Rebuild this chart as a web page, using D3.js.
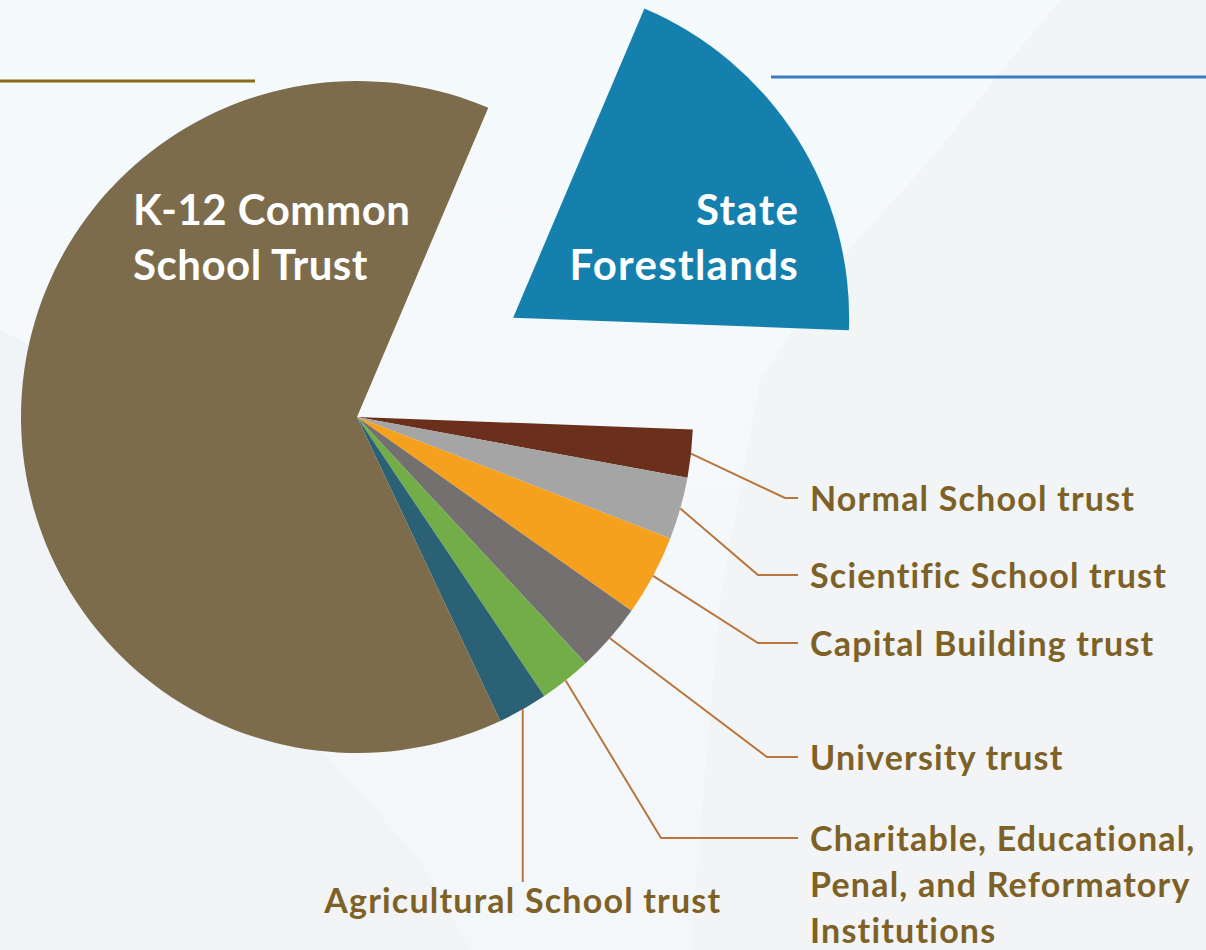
<!DOCTYPE html>
<html lang = "en">
    <head>
      <script src = "https://cdn.jsdelivr.net/npm/d3@7"></script>
      <style>
        body { margin: 0; background: #f4f9fc; }
        svg { display: block; }
        text { font-family: Lato, 'Open Sans', sans-serif; font-weight: 700; }
      </style>
    </head>

    <body>
        <div id="pieDiv"></div>
        <script>
            // slices in drawing order, clockwise from the forest wedge
            const categories = [
                'State Forestlands',
                'Normal School trust',
                'Scientific School trust',
                'Capital Building trust',
                'University trust',
                'Charitable, Educational, Penal, and Reformatory Institutions',
                'Agricultural School trust',
                'K-12 Common School Trust'
            ]
            const values = [19.2, 2.3, 3.0, 3.9, 3.3, 2.5, 2.4, 63.4]
            const labelLines = [
                ['State', 'Forestlands'],
                ['Normal School trust'],
                ['Scientific School trust'],
                ['Capital Building trust'],
                ['University trust'],
                ['Charitable, Educational,', 'Penal, and Reformatory', 'Institutions'],
                ['Agricultural School trust'],
                ['K-12 Common', 'School Trust']
            ]
            const colors = ['#1580ad', '#6b301c', '#a5a5a5', '#f6a11e', '#757070', '#72ad47', '#2b6175', '#7c6c4c']

            let w = 1206
            let h = 950
            let cx = 357
            let cy = 417
            let radius = 336
            let explode = 185
            let startDeg = 23

            // callout layout: elbow x, y of the short horizontal run (null elbow = straight drop)
            let callouts = {
                1: {elbowX: 785, lineY: 498, textX: 810},
                2: {elbowX: 758, lineY: 575, textX: 810},
                3: {elbowX: 758, lineY: 643, textX: 810},
                4: {elbowX: 767, lineY: 757, textX: 810},
                5: {elbowX: 661, lineY: 838, textX: 810},
                6: {elbowX: null, lineY: 882, textX: 521}
            }

            let svg = d3.select('#pieDiv')
                .append('svg')
                .attr('width', w)
                .attr('height', h)

            // faint backdrop
            let defs = svg.append('defs')
            let grad = defs.append('linearGradient')
                .attr('id', 'bg')
                .attr('x1', 0).attr('y1', 0).attr('x2', 0).attr('y2', 1)
            grad.append('stop').attr('offset', '0%').attr('stop-color', '#f5fafd')
            grad.append('stop').attr('offset', '100%').attr('stop-color', '#f4f7f9')
            svg.append('rect')
                .attr('width', w)
                .attr('height', h)
                .attr('fill', 'url(#bg)')
            svg.append('path')
                .attr('d', 'M690,950 L720,600 L760,380 L840,260 L930,160 L1010,60 L1060,0 L1206,0 L1206,950 Z')
                .attr('fill', '#f0f1f1')
                .attr('opacity', 0.6)
            svg.append('path')
                .attr('d', 'M0,330 L40,350 L90,420 L150,520 L230,640 L330,760 L420,860 L470,950 L0,950 Z')
                .attr('fill', '#eef0f1')
                .attr('opacity', 0.5)

            // header rules
            svg.append('line')
                .attr('x1', 0).attr('x2', 255)
                .attr('y1', 81).attr('y2', 81)
                .attr('stroke', '#8a6a12')
                .attr('stroke-width', 3)
            svg.append('line')
                .attr('x1', 771).attr('x2', w)
                .attr('y1', 77).attr('y2', 77)
                .attr('stroke', '#3a7bc4')
                .attr('stroke-width', 3)

            let startAngle = startDeg * Math.PI / 180
            let pie = d3.pie()
                .sort(null)
                .value(function(d) {return d})
                .startAngle(startAngle)
                .endAngle(startAngle + 2 * Math.PI)
            let arcs = pie(values)

            let arc = d3.arc()
                .innerRadius(0)
                .outerRadius(radius)
            let edge = d3.arc()
                .innerRadius(radius)
                .outerRadius(radius)

            function offset(d, i) {
                if (i !== 0) return [0, 0]
                let a = (d.startAngle + d.endAngle) / 2
                return [Math.sin(a) * explode, -Math.cos(a) * explode]
            }

            let g = svg.append('g')
                .attr('transform', 'translate(' + cx + ',' + cy + ')')

            g.selectAll('path.slice')
                .data(arcs)
                .enter()
                .append('path')
                .attr('class', 'slice')
                .attr('d', arc)
                .attr('fill', function(d, i) {return colors[i]})
                .attr('transform', function(d, i) {return 'translate(' + offset(d, i).join(',') + ')'})

            // leader lines
            let lineColor = '#b8763e'
            arcs.forEach(function(d, i) {
                let c = callouts[i]
                if (!c) return
                let p = edge.centroid(d)
                let pts
                if (c.elbowX === null) {
                    pts = [[p[0], p[1]], [p[0], c.lineY - cy]]
                } else {
                    pts = [[p[0], p[1]], [c.elbowX - cx, c.lineY - cy], [c.textX - 12 - cx, c.lineY - cy]]
                }
                g.append('path')
                    .attr('d', d3.line()(pts))
                    .attr('fill', 'none')
                    .attr('stroke', lineColor)
                    .attr('stroke-width', 2)

                let label = g.append('text')
                    .attr('fill', '#7d6126')
                    .attr('font-size', 34)
                    .attr('letter-spacing', 1.2)
                if (c.elbowX === null) {
                    label.attr('text-anchor', 'middle')
                        .attr('x', p[0])
                        .attr('y', c.lineY + 31 - cy)
                } else {
                    label.attr('x', c.textX - cx)
                        .attr('y', c.lineY + 13 - cy)
                }
                labelLines[i].forEach(function(line, k) {
                    label.append('tspan')
                        .attr('x', label.attr('x'))
                        .attr('dy', k === 0 ? 0 : 46)
                        .text(line)
                })
            })

            // labels inside the two big wedges
            let forest = arcs[0]
            let fo = offset(forest, 0)
            let forestLabel = g.append('text')
                .attr('fill', '#ffffff')
                .attr('font-size', 42)
                .attr('letter-spacing', 1.3)
                .attr('text-anchor', 'end')
            labelLines[0].forEach(function(line, k) {
                forestLabel.append('tspan')
                    .attr('x', fo[0] + 286)
                    .attr('y', fo[1] - 93 + k * 55)
                    .text(line)
            })

            let k12Label = g.append('text')
                .attr('fill', '#ffffff')
                .attr('font-size', 42)
                .attr('letter-spacing', 0.5)
            labelLines[7].forEach(function(line, k) {
                k12Label.append('tspan')
                    .attr('x', -224)
                    .attr('y', -192 + k * 55)
                    .text(line)
            })
        </script>
    </body>
</html>
